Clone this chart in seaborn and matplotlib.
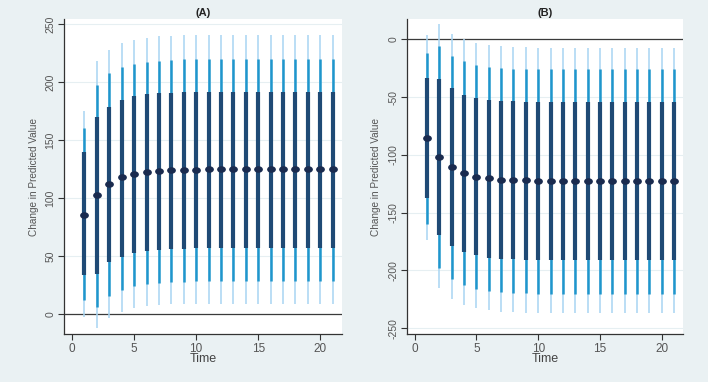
import numpy as np
import pandas as pd
import matplotlib
matplotlib.use("Agg")
import matplotlib.pyplot as plt
from matplotlib.path import Path
from matplotlib.transforms import Affine2D
import seaborn as sns

time = list(range(1, 22))

# panel (A)
a_est = [86, 103, 112, 118, 121, 122.5, 123.5, 124, 124.5, 124.8] + [125] * 11
a_dark_hi = [139.5, 170, 179, 185, 188, 189.5, 190.5, 191, 191.5, 191.8] + [192] * 11
a_dark_lo = [34, 35, 45, 49.5, 53, 54.5, 55.5, 56, 56.5, 56.8] + [57] * 11
a_med_hi = [161, 198, 208, 213, 216, 217.5, 218.5, 219.3, 219.7, 219.9] + [220] * 11
a_med_lo = [12, 6.5, 16, 21, 24.5, 26, 27, 27.8, 28.2, 28.4] + [28.5] * 11
a_lt_hi = [175.5, 218, 228, 234, 236.5, 238.5, 239.5, 240, 240.5, 240.7] + [241] * 11
a_lt_lo = [-2.5, -12, -3, 2, 5, 7, 8, 8.5, 8.8, 9] + [9] * 11

# panel (B)
b_est = [-85, -101.5, -110.5, -116, -118.7, -120.4, -121.3, -121.8, -122.1, -122.2] + [-122.3] * 11
b_dark_hi = [-33.5, -34, -42.5, -48, -51, -52.5, -53.3, -53.8, -54, -54.2] + [-54.3] * 11
b_dark_lo = [-137.5, -169, -179, -184, -187, -189, -190, -190.5, -190.8, -191] + [-191] * 11
b_med_hi = [-11.5, -5.5, -14, -19, -22, -24, -25, -25.5, -25.8, -26] + [-26] * 11
b_med_lo = [-159.5, -198, -207, -213, -216, -217.5, -218.8, -219.4, -219.7, -220] + [-220] * 11
b_lt_hi = [4, 13, 5, 0, -3.5, -5, -6, -6.6, -7, -7.2] + [-7.3] * 11
b_lt_lo = [-174, -215.5, -225, -230, -232.5, -234.5, -235.6, -236.2, -236.6, -236.8] + [-237] * 11

BG = "#eaf1f3"
DARK = "#1f4a75"
MED = "#1f96cc"
LIGHT = "#a8d5f2"
DOT = "#1a2b4f"

# slightly flattened dot, like the stretched original
ellipse = Path.unit_circle().transformed(Affine2D().scale(1.0, 0.75))

sns.set_theme(style="white")
plt.rcParams['font.family'] = ['Liberation Sans', 'DejaVu Sans']

fig = plt.figure(figsize=(7.08, 3.82), dpi=100, facecolor=BG)
ax_a = fig.add_axes([0.0904, 0.125, 0.3926, 0.825])
ax_b = fig.add_axes([0.5744, 0.125, 0.3907, 0.825])


def draw_panel(ax, title, est, dlo, dhi, mlo, mhi, llo, lhi, ylim, yticks):
    df = pd.DataFrame({"Time": time, "est": est, "dlo": dlo, "dhi": dhi,
                       "mlo": mlo, "mhi": mhi, "llo": llo, "lhi": lhi})
    for yt in yticks:
        ax.axhline(yt, color="#e6eff2", lw=0.8, zorder=0)
    ax.axhline(0, color="#3a3a3a", lw=0.9, zorder=1)
    ax.vlines(df["Time"], df["llo"], df["lhi"], color=LIGHT, lw=1.1, zorder=2)
    ax.vlines(df["Time"], df["mlo"], df["mhi"], color=MED, lw=1.8, zorder=3)
    ax.vlines(df["Time"], df["dlo"], df["dhi"], color=DARK, lw=3.0, zorder=4)
    sns.scatterplot(data=df, x="Time", y="est", ax=ax, color=DOT, s=40,
                    marker=ellipse, edgecolor=DOT, linewidth=0, zorder=5)
    ax.set_xlim(-0.65, 21.75)
    ax.set_ylim(*ylim)
    ax.set_xticks([0, 5, 10, 15, 20])
    ax.set_yticks(yticks)
    ax.set_yticklabels([str(v) for v in yticks], rotation=90, va="center")
    ax.tick_params(axis="x", colors="#555555", labelsize=8.5, length=4,
                   width=0.8, direction="out", bottom=True, pad=2)
    ax.tick_params(axis="y", colors="#555555", labelsize=7.5, length=4,
                   width=0.8, direction="out", left=True, pad=2)
    ax.tick_params(axis="both", color="#333333")
    for s in ["top", "right"]:
        ax.spines[s].set_visible(False)
    for s in ["left", "bottom"]:
        ax.spines[s].set_color("#333333")
        ax.spines[s].set_linewidth(0.9)
    ax.set_facecolor("white")
    ax.set_xlabel("Time", fontsize=9, color="#444444", labelpad=-1)
    ax.set_ylabel("Change in Predicted Value", fontsize=7.2, color="#555555", labelpad=5)
    ax.set_title(title, fontsize=8, fontweight="bold", color="#222222", pad=2.5)


draw_panel(ax_a, "(A)", a_est, a_dark_lo, a_dark_hi, a_med_lo, a_med_hi,
           a_lt_lo, a_lt_hi, (-17.2, 254.5), [0, 50, 100, 150, 200, 250])
draw_panel(ax_b, "(B)", b_est, b_dark_lo, b_dark_hi, b_med_lo, b_med_hi,
           b_lt_lo, b_lt_hi, (-255.2, 17.5), [-250, -200, -150, -100, -50, 0])

fig.savefig("out.png", dpi=100, facecolor=BG)
